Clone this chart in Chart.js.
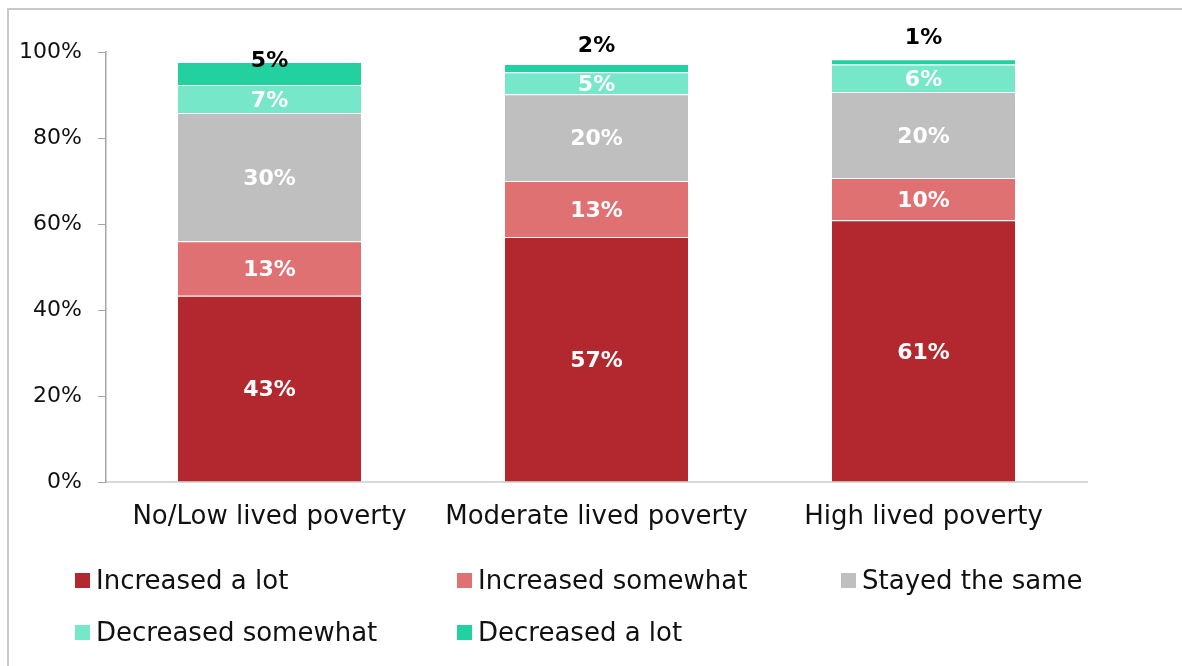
<!DOCTYPE html>
<html>
<head>
<meta charset="utf-8">
<script src="https://cdn.jsdelivr.net/npm/chart.js@4.4.1/dist/chart.umd.min.js"></script>
<style>
    html, body { margin: 0; padding: 0; background: #fff; }
    #wrap { position: relative; width: 1182px; height: 666px; overflow: hidden; }
    #frame { position: absolute; left: 7px; top: 8px; width: 1200px; height: 700px; border: 2px solid #c9c9c9; box-sizing: border-box; pointer-events: none; }
    #chart { position: absolute; left: 0; top: 0; }
    #legend { position: absolute; left: 75px; top: 554px; display: grid; grid-template-columns: 382px 384px 300px; grid-auto-rows: 52px; font-family: 'DejaVu Sans', sans-serif; font-size: 26px; color: #111; }
    #legend .item { display: flex; align-items: center; white-space: nowrap; }
    #legend .box { width: 15px; height: 15px; margin-right: 6px; flex: none; }
</style>
</head>
<body>
<div id="wrap">
    <canvas id="chart" width="1182" height="666"></canvas>
    <div id="legend"></div>
    <div id="frame"></div>
</div>
<script>
const categories = ['No/Low lived poverty', 'Moderate lived poverty', 'High lived poverty'];
const seriesNames = ['Increased a lot', 'Increased somewhat', 'Stayed the same', 'Decreased somewhat', 'Decreased a lot'];
const increasedALot = [43.3, 57.0, 60.9];
const increasedSomewhat = [12.7, 13.0, 9.8];
const stayedTheSame = [29.8, 20.2, 20.0];
const decreasedSomewhat = [6.5, 5.1, 6.4];
const decreasedALot = [5.4, 1.9, 1.2];
const yTicks = [0, 20, 40, 60, 80, 100];

const colors = ['#b3282e', '#e07173', '#bfbfbf', '#76e8c9', '#22d19f'];
const FONT = "'DejaVu Sans', sans-serif";

// segment labels: white inside, last series in black above the bar
const segmentLabels = {
    id: 'segmentLabels',
    afterDatasetsDraw(chart, args, opts) {
        const ctx = chart.ctx;
        const last = chart.data.datasets.length - 1;
        ctx.save();
        ctx.font = `bold ${opts.size}px ${FONT}`;
        ctx.textAlign = 'center';
        ctx.textBaseline = 'middle';
        chart.data.datasets.forEach((ds, di) => {
            chart.getDatasetMeta(di).data.forEach((bar, i) => {
                const text = Math.round(ds.data[i]) + '%';
                if (di === last) {
                    ctx.fillStyle = '#000';
                    ctx.fillText(text, bar.x, bar.y - opts.topLift[i]);
                } else {
                    ctx.fillStyle = '#fff';
                    ctx.fillText(text, bar.x, (bar.y + bar.base) / 2 + 2);
                }
            });
        });
        ctx.restore();
    }
};

const seriesData = [increasedALot, increasedSomewhat, stayedTheSame, decreasedSomewhat, decreasedALot];

const chart = new Chart(document.getElementById('chart'), {
    type: 'bar',
    data: {
        labels: categories,
        datasets: seriesNames.map((name, i) => ({
            label: name,
            data: seriesData[i],
            backgroundColor: colors[i],
            borderColor: 'rgba(255,255,255,0.6)',
            borderWidth: { top: 1 },
            borderSkipped: 'bottom',
            categoryPercentage: 1,
            barPercentage: 0.56
        }))
    },
    options: {
        responsive: false,
        animation: false,
        layout: { padding: { top: 52, right: 95, left: 0, bottom: 0 } },
        plugins: {
            legend: { display: false },
            tooltip: { enabled: false },
            segmentLabels: { size: 22, topLift: [1, 18, 21] }
        },
        scales: {
            x: {
                stacked: true,
                grid: { display: false },
                border: { color: '#d9d9d9', width: 2 },
                ticks: { color: '#111', padding: 12, font: { family: FONT, size: 26 } },
                afterFit(scale) { scale.height = 184; }
            },
            y: {
                stacked: true,
                min: 0,
                max: 100,
                afterBuildTicks(scale) { scale.ticks = yTicks.map(v => ({ value: v })); },
                grid: { drawOnChartArea: false, drawTicks: true, tickLength: 8, color: '#a6a6a6' },
                border: { color: '#a6a6a6', width: 1.5 },
                ticks: { color: '#111', padding: 16, font: { family: FONT, size: 22 }, callback: v => v + '%' },
                afterFit(scale) { scale.width = 106; }
            }
        }
    },
    plugins: [segmentLabels]
});

document.getElementById('legend').innerHTML = chart.data.datasets.map(ds => `
    <div class="item"><span class="box" style="background:${ds.backgroundColor}"></span>${ds.label}</div>
`).join('');
</script>
</body>
</html>
